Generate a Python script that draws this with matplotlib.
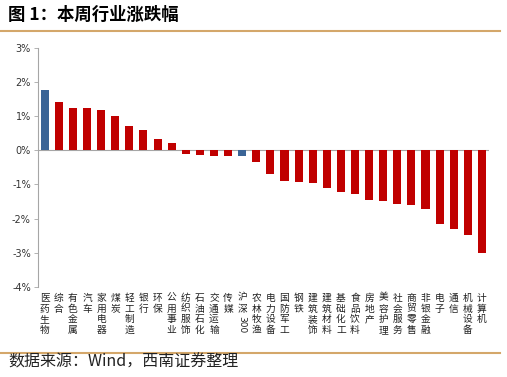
import matplotlib.pyplot as plt
from matplotlib.lines import Line2D

plt.rcParams['font.family'] = ['Noto Sans CJK SC', 'DejaVu Sans']

# industries, weekly change (%)
industries = ['医药生物', '综合', '有色金属', '汽车', '家用电器', '煤炭', '轻工制造', '银行', '环保',
              '公用事业', '纺织服饰', '石油石化', '交通运输', '传媒', '沪深300', '农林牧渔', '电力设备',
              '国防军工', '钢铁', '建筑装饰', '建筑材料', '基础化工', '食品饮料', '房地产', '美容护理',
              '社会服务', '商贸零售', '非银金融', '电子', '通信', '机械设备', '计算机']
changes = [1.78, 1.41, 1.25, 1.23, 1.19, 1.01, 0.70, 0.59, 0.34,
           0.20, -0.11, -0.14, -0.16, -0.16, -0.18, -0.35, -0.70,
           -0.91, -0.94, -0.96, -1.09, -1.23, -1.27, -1.45, -1.47,
           -1.58, -1.60, -1.72, -2.16, -2.30, -2.48, -3.01]
highlight = ['医药生物', '沪深300']
yticks = [3, 2, 1, 0, -1, -2, -3, -4]

red = '#C00000'
blue = '#3A6496'
colors = [blue if n in highlight else red for n in industries]

fig = plt.figure(figsize=(5.07, 3.77), dpi=100)
ax = fig.add_axes([0.0744, 0.239, 0.89, 0.634])

x = list(range(len(industries)))
ax.bar(x, changes, width=0.57, color=colors, zorder=2)
ax.axhline(0, color='#A6A6A6', lw=0.8, zorder=1)

ax.set_xlim(-0.5, len(industries) - 0.5)
ax.set_ylim(-4, 3)
ax.set_yticks(yticks)
ax.set_yticklabels([f'{v}%' for v in yticks], fontsize=7, color='#333333',
                   family=['DejaVu Sans'])
ax.tick_params(axis='y', length=3, width=0.6, color='#A6A6A6', pad=2)
ax.set_xticks([])
for s in ['top', 'right', 'bottom']:
    ax.spines[s].set_visible(False)
ax.spines['left'].set_color('#A6A6A6')
ax.spines['left'].set_linewidth(0.8)

# vertical stacked category labels
for i, name in enumerate(industries):
    if name.endswith('300'):
        ax.text(i, -4.17, '\n'.join(name[:-3]), ha='center', va='top', fontsize=7,
                linespacing=1.1, color='#222222')
        ax.text(i, -4.86, '300', ha='center', va='top', fontsize=6.5, rotation=-90,
                color='#222222', family=['DejaVu Sans'])
    else:
        ax.text(i, -4.17, '\n'.join(name), ha='center', va='top', fontsize=7,
                linespacing=1.1, color='#222222')

# header / footer
fig.text(0.016, 0.96, '图 1：本周行业涨跌幅', fontsize=12.5, fontweight='bold',
         va='center', ha='left')
fig.add_artist(Line2D([0, 0.987], [0.918, 0.918], color='#D4A76A', lw=1.5))
fig.add_artist(Line2D([0, 0.987], [0.064, 0.064], color='#D4A76A', lw=1.5))
fig.text(0.016, 0.04, '数据来源：Wind，西南证券整理', fontsize=11.5, style='italic',
         va='center', ha='left', color='#222222')

fig.savefig('out.png', dpi=100)
